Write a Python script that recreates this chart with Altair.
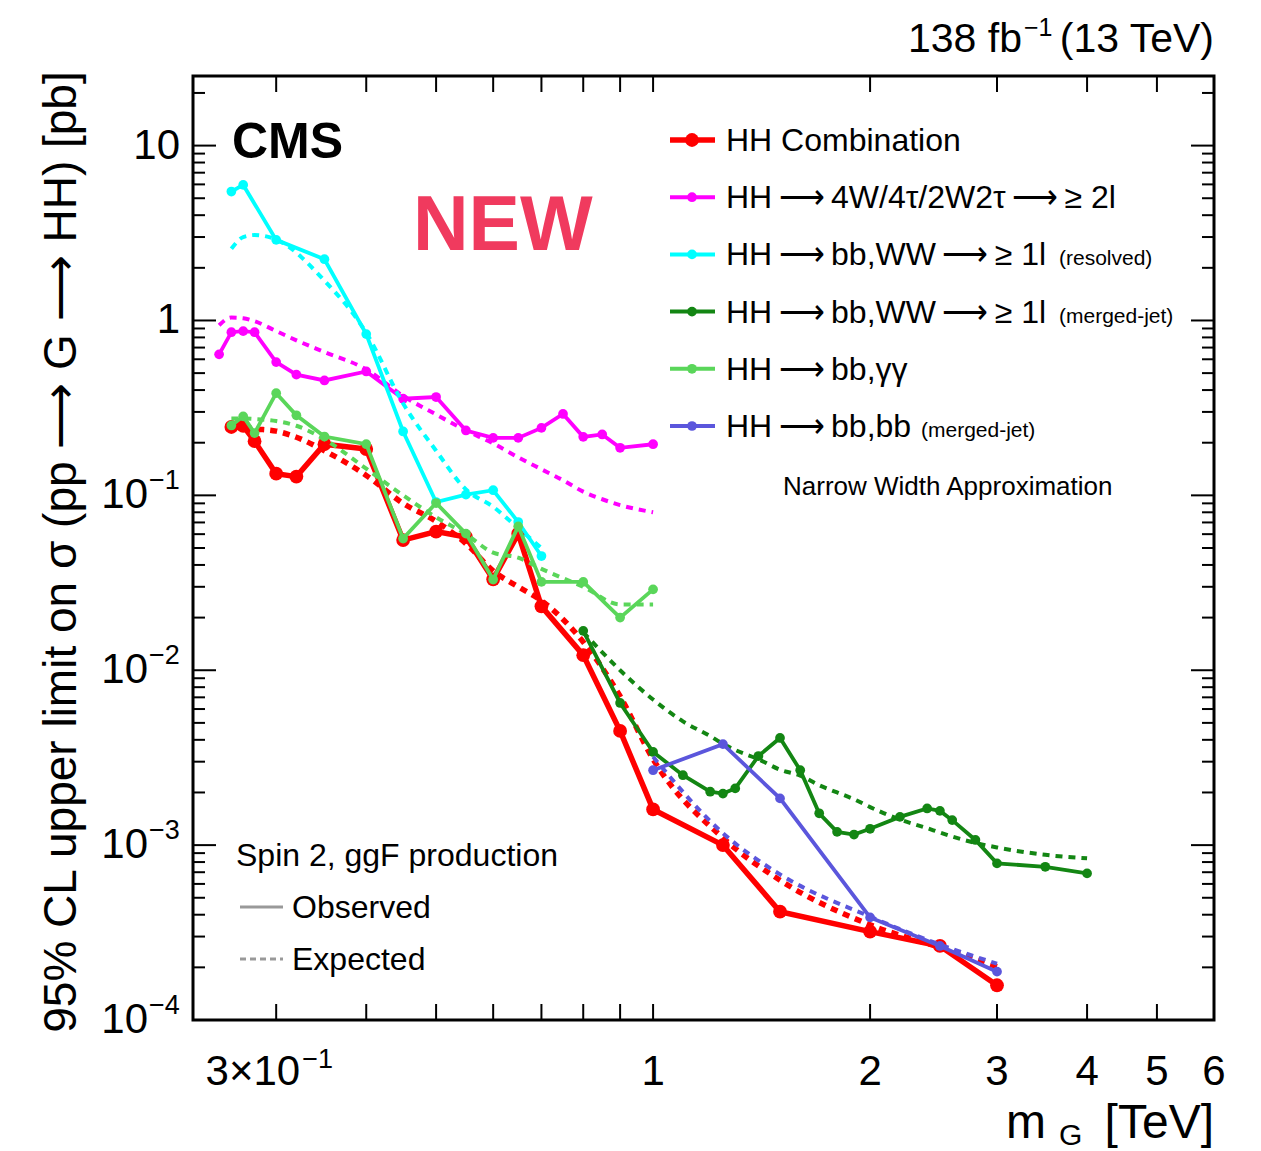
import altair as alt
import pandas as pd

# ---------------- data: 95% CL upper limits [pb] vs graviton mass [TeV] ----------------
ARROW = "\u2009⟶\u2009"
series_names = [
    "HH Combination",
    f"HH{ARROW}4W/4τ/2W2τ{ARROW}≥ 2l",
    f"HH{ARROW}bb,WW{ARROW}≥ 1l",
    f"HH{ARROW}bb,WW{ARROW}≥ 1l",
    f"HH{ARROW}bb,γγ",
    f"HH{ARROW}bb,bb",
]
series_suffix = ["", "", "(resolved)", "(merged-jet)", "", "(merged-jet)"]
series_colors = ["#ff0000", "#ff00ff", "#00ffff", "#138613", "#5ad65a", "#5b56dc"]

comb_m = [0.26, 0.27, 0.28, 0.30, 0.32, 0.35, 0.40, 0.45, 0.50, 0.55, 0.60, 0.65, 0.70,
          0.80, 0.90, 1.0, 1.25, 1.5, 2.0, 2.5, 3.0]
comb_obs = [0.246, 0.25, 0.204, 0.133, 0.128, 0.196, 0.184, 0.0555, 0.062, 0.0578, 0.0331,
            0.0604, 0.0232, 0.0122, 0.0045, 0.0016, 0.0010, 0.000416, 0.00032, 0.000265, 0.000158]
comb_exp = [0.245, 0.245, 0.24, 0.233, 0.215, 0.18, 0.13, 0.09, 0.071, 0.053, 0.037,
            0.030, 0.025, 0.0145, 0.0071, 0.0031, 0.0011, 0.00063, 0.00035, 0.00026, 0.000202]

multi_m = [0.25, 0.26, 0.27, 0.28, 0.30, 0.32, 0.35, 0.40, 0.45, 0.50, 0.55, 0.60, 0.65,
           0.70, 0.75, 0.80, 0.85, 0.90, 1.0]
multi_obs = [0.64, 0.857, 0.869, 0.857, 0.578, 0.49, 0.454, 0.511, 0.357, 0.365, 0.235, 0.213,
             0.213, 0.243, 0.292, 0.216, 0.223, 0.187, 0.196]
multi_exp = [0.94, 1.04, 1.03, 0.99, 0.87, 0.77, 0.66, 0.525, 0.37, 0.29, 0.235, 0.198,
             0.165, 0.141, 0.122, 0.105, 0.095, 0.088, 0.08]

bbww_res_m = [0.26, 0.27, 0.30, 0.35, 0.40, 0.45, 0.50, 0.55, 0.60, 0.65, 0.70]
bbww_res_obs = [5.46, 5.96, 2.89, 2.24, 0.836, 0.232, 0.0916, 0.101, 0.107, 0.0704, 0.045]
bbww_res_exp_m = [0.26, 0.27, 0.28, 0.30, 0.35, 0.40, 0.45, 0.50, 0.55, 0.60, 0.65, 0.70]
bbww_res_exp = [2.57, 3.0, 3.08, 2.9, 1.69, 0.85, 0.335, 0.18, 0.108, 0.086, 0.065, 0.05]

bbww_mrg_m = [0.8, 0.9, 1.0, 1.1, 1.2, 1.25, 1.3, 1.4, 1.5, 1.6, 1.7, 1.8, 1.9, 2.0,
              2.2, 2.4, 2.5, 2.6, 2.8, 3.0, 3.5, 4.0]
bbww_mrg_obs = [0.0168, 0.0065, 0.00341, 0.00251, 0.00202, 0.00197, 0.00211, 0.00323, 0.0041,
                0.00268, 0.00152, 0.00119, 0.00115, 0.00124, 0.00145, 0.00162, 0.00157,
                0.00139, 0.00107, 0.000786, 0.000752, 0.000689]
bbww_mrg_exp = [0.0165, 0.0100, 0.0068, 0.0051, 0.0042, 0.0038, 0.0035, 0.0031, 0.0027,
                0.0025, 0.0022, 0.0020, 0.00183, 0.00165, 0.0014, 0.00125, 0.00118,
                0.00112, 0.00103, 0.00097, 0.00088, 0.00084]

bbgg_m = [0.26, 0.27, 0.28, 0.30, 0.32, 0.35, 0.40, 0.45, 0.50, 0.55, 0.60, 0.65, 0.70,
          0.80, 0.90, 1.0]
bbgg_obs = [0.251, 0.283, 0.227, 0.384, 0.287, 0.217, 0.196, 0.0566, 0.0904, 0.0604, 0.033,
            0.0665, 0.032, 0.032, 0.020, 0.029]
bbgg_exp = [0.275, 0.275, 0.273, 0.266, 0.25, 0.209, 0.142, 0.10, 0.075, 0.06, 0.047,
            0.044, 0.038, 0.030, 0.0238, 0.0238]

bbbb_m = [1.0, 1.25, 1.5, 2.0, 2.5, 3.0]
bbbb_obs = [0.00268, 0.00378, 0.00185, 0.000386, 0.000265, 0.000189]
bbbb_exp = [0.0032, 0.00117, 0.00068, 0.00039, 0.00027, 0.00021]

# axis tick positions
x_ticks = [0.3, 0.4, 0.5, 0.6, 0.7, 0.8, 0.9, 1, 2, 3, 4, 5]
x_labels = ["1", "2", "3", "4", "5", "6"]
x_label_vals = [1, 2, 3, 4, 5, 6]
y_major = [1e-4, 1e-3, 1e-2, 1e-1, 1, 10]
y_minor = [k * 10.0 ** d for d in range(-4, 2) for k in range(2, 10) if k * 10.0 ** d <= 25]
y_base = ["10", "10", "10", "10", "1", "10"]
y_exp = ["−4", "−3", "−2", "−1", "", ""]

# ---------------- layout ----------------
W, H = 1021, 944
FONT = "Liberation Sans"
xs = alt.Scale(type="log", domain=[0.23, 6.0], nice=False)
ys = alt.Scale(type="log", domain=[1e-4, 25], nice=False)
one = pd.DataFrame({"k": [0]})


def X():
    return alt.X("mass:Q", scale=xs, axis=None)


def Y():
    return alt.Y("limit:Q", scale=ys, axis=None)


def frame(m, v):
    return pd.DataFrame({"mass": m, "limit": v})


def curve(m, v, color, width, dashed, marker=0):
    out = []
    if dashed:
        out.append(alt.Chart(frame(m, v)).mark_line(
            color=color, strokeWidth=width, strokeDash=[7, 6], strokeCap="butt",
            interpolate="monotone", clip=True).encode(x=X(), y=Y()))
    else:
        out.append(alt.Chart(frame(m, v)).mark_line(
            color=color, strokeWidth=width, clip=True).encode(x=X(), y=Y()))
        out.append(alt.Chart(frame(m, v)).mark_circle(
            color=color, size=marker, opacity=1).encode(x=X(), y=Y()))
    return out


def text(txt, x, y, size, align="left", baseline="alphabetic", color="black",
         weight="normal", angle=0):
    return alt.Chart(one).mark_text(
        text=txt, font=FONT, fontSize=size, align=align, baseline=baseline,
        color=color, fontWeight=weight, angle=angle).encode(x=alt.value(x), y=alt.value(y))


layers = []
c = series_colors
# combination drawn first, the channels on top of it
layers += curve(comb_m, comb_exp, c[0], 5.5, True)
layers += curve(comb_m, comb_obs, c[0], 5.5, False, 190)
layers += curve(multi_m, multi_exp, c[1], 4, True)
layers += curve(multi_m, multi_obs, c[1], 3.8, False, 95)
layers += curve(bbww_res_exp_m, bbww_res_exp, c[2], 4, True)
layers += curve(bbww_res_m, bbww_res_obs, c[2], 3.8, False, 95)
layers += curve(bbgg_m, bbgg_exp, c[4], 4, True)
layers += curve(bbgg_m, bbgg_obs, c[4], 3.8, False, 95)
layers += curve(bbww_mrg_m, bbww_mrg_exp, c[3], 4, True)
layers += curve(bbww_mrg_m, bbww_mrg_obs, c[3], 3.8, False, 95)
layers += curve(bbbb_m, bbbb_exp, c[5], 4, True)
layers += curve(bbbb_m, bbbb_obs, c[5], 3.8, False, 95)

# inward ticks on all four sides
xt = pd.DataFrame({"mass": x_ticks})
for y0, y1 in [(H, H - 16), (0, 16)]:
    layers.append(alt.Chart(xt).mark_rule(color="black", strokeWidth=2).encode(
        x=X(), y=alt.value(y0), y2=alt.value(y1)))
for vals, L in [(y_major, 23), (y_minor, 12)]:
    yt = pd.DataFrame({"limit": vals})
    layers.append(alt.Chart(yt).mark_rule(color="black", strokeWidth=2).encode(
        y=Y(), x=alt.value(0), x2=alt.value(L)))
    layers.append(alt.Chart(yt).mark_rule(color="black", strokeWidth=2).encode(
        y=Y(), x=alt.value(W - L), x2=alt.value(W)))

# tick labels
xl = pd.DataFrame({"mass": x_label_vals, "lab": x_labels})
layers.append(alt.Chart(xl).mark_text(font=FONT, fontSize=42, align="center",
                                      baseline="alphabetic").encode(
    x=X(), y=alt.value(H + 65), text="lab:N"))
x03 = pd.DataFrame({"mass": [0.3], "lab": ["3×10"], "sup": ["−1"]})
layers.append(alt.Chart(x03).mark_text(font=FONT, fontSize=42, align="right",
                                       baseline="alphabetic", dx=24).encode(
    x=X(), y=alt.value(H + 65), text="lab:N"))
layers.append(alt.Chart(x03).mark_text(font=FONT, fontSize=27, align="left",
                                       baseline="alphabetic", dx=26).encode(
    x=X(), y=alt.value(H + 48), text="sup:N"))

yl = pd.DataFrame({"limit": y_major, "base": y_base, "sup": y_exp})
plain = yl[yl["sup"] == ""]
powered = yl[yl["sup"] != ""]
layers.append(alt.Chart(plain).mark_text(font=FONT, fontSize=42, align="right",
                                         baseline="middle").encode(
    y=Y(), x=alt.value(-13), text="base:N"))
layers.append(alt.Chart(powered).mark_text(font=FONT, fontSize=42, align="right",
                                           baseline="middle").encode(
    y=Y(), x=alt.value(-45), text="base:N"))
layers.append(alt.Chart(powered).mark_text(font=FONT, fontSize=27, align="left",
                                           baseline="middle", dy=-14).encode(
    y=Y(), x=alt.value(-44), text="sup:N"))

# axis titles
layers.append(text("95% CL upper limit on σ (pp ⟶ G ⟶ HH) [pb]", -131, 476, 46,
                   align="center", baseline="middle", angle=270))
layers.append(text("m", 853, 1062, 48, align="right"))
layers.append(text("G", 866, 1069, 30))
layers.append(text("[TeV]", W, 1062, 48, align="right"))

# header texts
layers.append(text("(13 TeV)", W, -24, 41, align="right"))
layers.append(text("−1", 831, -40, 25))
layers.append(text("138 fb", 829, -24, 41, align="right"))
layers.append(text("CMS", 39, 82, 50, weight="bold"))
layers.append(text("NEW", 220, 174, 77, weight="bold", color="#f03a5e"))

# channel legend
for i, name in enumerate(series_names):
    yrow = 64 + 57.2 * i
    lw = 5.5 if i == 0 else 4
    ms = 190 if i == 0 else 95
    layers.append(alt.Chart(one).mark_rule(color=c[i], strokeWidth=lw).encode(
        x=alt.value(477), x2=alt.value(522), y=alt.value(yrow)))
    layers.append(alt.Chart(one).mark_circle(color=c[i], size=ms, opacity=1).encode(
        x=alt.value(499), y=alt.value(yrow)))
    layers.append(text(name, 533, yrow + 11, 32))
    if series_suffix[i]:
        sx = 728 if i == 5 else 866
        layers.append(text(series_suffix[i], sx, yrow + 11, 21))
layers.append(text("Narrow Width Approximation", 590, 419, 26))

# observed / expected key
layers.append(text("Spin 2, ggF production", 43, 790, 32))
layers.append(alt.Chart(one).mark_rule(color="#999999", strokeWidth=3).encode(
    x=alt.value(47), x2=alt.value(90), y=alt.value(831)))
layers.append(alt.Chart(one).mark_rule(color="#999999", strokeWidth=3,
                                       strokeDash=[6, 4]).encode(
    x=alt.value(47), x2=alt.value(90), y=alt.value(883)))
layers.append(text("Observed", 99, 842, 32))
layers.append(text("Expected", 99, 894, 32))

chart = alt.layer(*layers).properties(
    width=W, height=H,
    padding={"left": 193, "top": 76, "right": 47, "bottom": 131},
    autosize=alt.AutoSizeParams(type="none"),
).configure_view(stroke="black", strokeWidth=3)

chart.save("out.html", embed_options={"renderer": "svg", "actions": False})
